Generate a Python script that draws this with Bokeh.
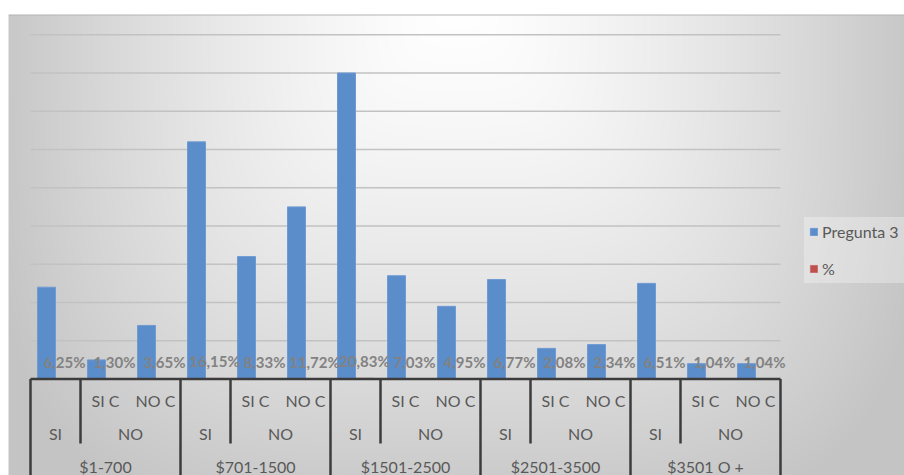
import numpy as np
from bokeh.plotting import figure
from bokeh.models import Range1d, Legend, LegendItem
from bokeh.core.properties import value
from bokeh.embed import file_html
from bokeh.resources import INLINE

# ---------------- data ----------------
groups = ["$1-700", "$701-1500", "$1501-2500", "$2501-3500", "$3501 O +"]
level2 = ["SI", "NO", "NO"]
level1 = ["", "SI C", "NO C"]
pregunta3 = [24, 5, 14, 62, 32, 45, 80, 27, 19, 26, 8, 9, 25, 4, 4]
pct = [6.25, 1.30, 3.65, 16.15, 8.33, 11.72, 20.83, 7.03, 4.95, 6.77, 2.08, 2.34, 6.51, 1.04, 1.04]
grid_ticks = [10, 20, 30, 40, 50, 60, 70, 80, 90]
series_names = ["Pregunta 3", "%"]

# ---------------- layout constants ----------------
W, H = 904, 475
PX_PER_CAT = 50.0
X0_PX = 55.0
BASE_PX = 378.5
PX_PER_UNIT = 3.825

x_start = -X0_PX / PX_PER_CAT
x_end = x_start + W / PX_PER_CAT
y_end = BASE_PX / PX_PER_UNIT
y_start = -(H - BASE_PX) / PX_PER_UNIT


def ydata(px):
    return (BASE_PX - px) / PX_PER_UNIT


n_sub = len(level1)
cat_group = [g for g in groups for _ in level1]
cat_l2 = level2 * len(groups)
cat_l1 = level1 * len(groups)
xs = list(range(len(cat_group)))

p = figure(width=W, height=H, x_range=Range1d(x_start, x_end), y_range=Range1d(y_start, y_end),
           output_backend="svg", toolbar_location=None, x_axis_location=None, y_axis_location=None,
           min_border=0, outline_line_color=None)
p.grid.visible = False
p.background_fill_color = "white"
p.border_fill_color = "white"

# ---------------- background gradient ----------------
yy, xx = np.mgrid[0:H, 0:W].astype(float)
ax = np.abs(xx - 456.0) / 448.0
ay = np.clip(yy, 0, None) / 475.0 * 0.95
t = (ax ** 4 + ay ** 4) ** 0.25
L = 255.0 - 55.0 * np.clip(t, 0, 1.05) ** 1.4
L = np.clip(L, 0, 255)
rgba = np.zeros((H, W, 4), dtype=np.uint8)
rgba[..., 0] = L
rgba[..., 1] = L
rgba[..., 2] = L
rgba[..., 3] = 255
rgba[:14, :, :3] = 255
rgba[:, :8, :3] = 255
rgba[14, 8:, :3] = 180
img = np.flipud(rgba).copy().view(dtype=np.uint32).reshape((H, W))
p.image_rgba(image=[img], x=x_start, y=y_start, dw=x_end - x_start, dh=y_end - y_start)

# ---------------- gridlines ----------------
left_edge = xs[0] - 0.5
right_edge = xs[-1] + 0.5
p.segment(x0=[left_edge] * len(grid_ticks), x1=[right_edge] * len(grid_ticks),
          y0=grid_ticks, y1=grid_ticks, line_color="#c2c2c2", line_width=1.4)

# ---------------- bars ----------------
bw = 0.36
r_blue = p.vbar(x=[x - bw / 2 for x in xs], top=pregunta3, bottom=0, width=bw,
                fill_color="#5b8dcb", line_color="#6f9ad2", line_width=1)
r_red = p.vbar(x=[x + bw / 2 for x in xs], top=[v / 100 for v in pct], bottom=0, width=bw,
               fill_color="#c0504d", line_color="#c0504d", line_width=0.5)

# data labels
labels = [f"{v:.2f}%".replace(".", ",") for v in pct]
p.text(x=[x + bw / 2 for x in xs], y=[v / 100 for v in pct], text=labels, y_offset=-17,
       text_align="center", text_baseline="middle", text_font=value("Lato"),
       text_font_size="15px", text_font_style="bold", text_color="#828282")

# ---------------- multi-level category axis ----------------
p.segment(x0=[left_edge], x1=[right_edge], y0=[0], y1=[0], line_color="#3c3c3c", line_width=2.5)
gx = [gi * n_sub - 0.5 for gi in range(len(groups) + 1)]
p.segment(x0=gx, x1=gx, y0=[0] * len(gx), y1=[y_start - 2] * len(gx),
          line_color="#3c3c3c", line_width=2.5)
ix = [xs[i] + 0.5 for i in range(len(xs) - 1)
      if cat_group[i] == cat_group[i + 1] and cat_l2[i] != cat_l2[i + 1]]
p.segment(x0=ix, x1=ix, y0=[0] * len(ix), y1=[ydata(443)] * len(ix),
          line_color="#3c3c3c", line_width=2.5)

axis_style = dict(text_align="center", text_baseline="middle", text_font=value("Lato"),
                  text_font_size="16px", text_color="#595959")
# level 1
l1x = [xs[i] for i in range(len(xs)) if cat_l1[i]]
l1t = [cat_l1[i] for i in range(len(xs)) if cat_l1[i]]
p.text(x=l1x, y=[ydata(400)] * len(l1x), text=l1t, **axis_style)
# level 2
l2x, l2t = [], []
i = 0
while i < len(xs):
    j = i
    while j + 1 < len(xs) and cat_group[j + 1] == cat_group[i] and cat_l2[j + 1] == cat_l2[i]:
        j += 1
    l2x.append((xs[i] + xs[j]) / 2)
    l2t.append(cat_l2[i])
    i = j + 1
p.text(x=l2x, y=[ydata(433)] * len(l2x), text=l2t, **axis_style)
# groups
g_x = [float(np.mean([xs[k] for k in range(len(xs)) if cat_group[k] == g])) for g in groups]
p.text(x=g_x, y=[ydata(466)] * len(g_x), text=groups, **axis_style)

# ---------------- legend ----------------
legend = Legend(items=[LegendItem(label=series_names[0], renderers=[r_blue]),
                       LegendItem(label=series_names[1], renderers=[r_red])],
                location=(804, H - 283))
legend.label_text_font = "Lato"
legend.label_text_font_size = "16px"
legend.label_text_color = "#595959"
legend.glyph_width = 9
legend.glyph_height = 9
legend.label_height = 18
legend.spacing = 18
legend.padding = 5
legend.margin = 0
legend.label_standoff = 4
legend.background_fill_color = "white"
legend.background_fill_alpha = 0.3
legend.border_line_alpha = 0
p.add_layout(legend)

open("out.html", "w").write(file_html(p, INLINE))
